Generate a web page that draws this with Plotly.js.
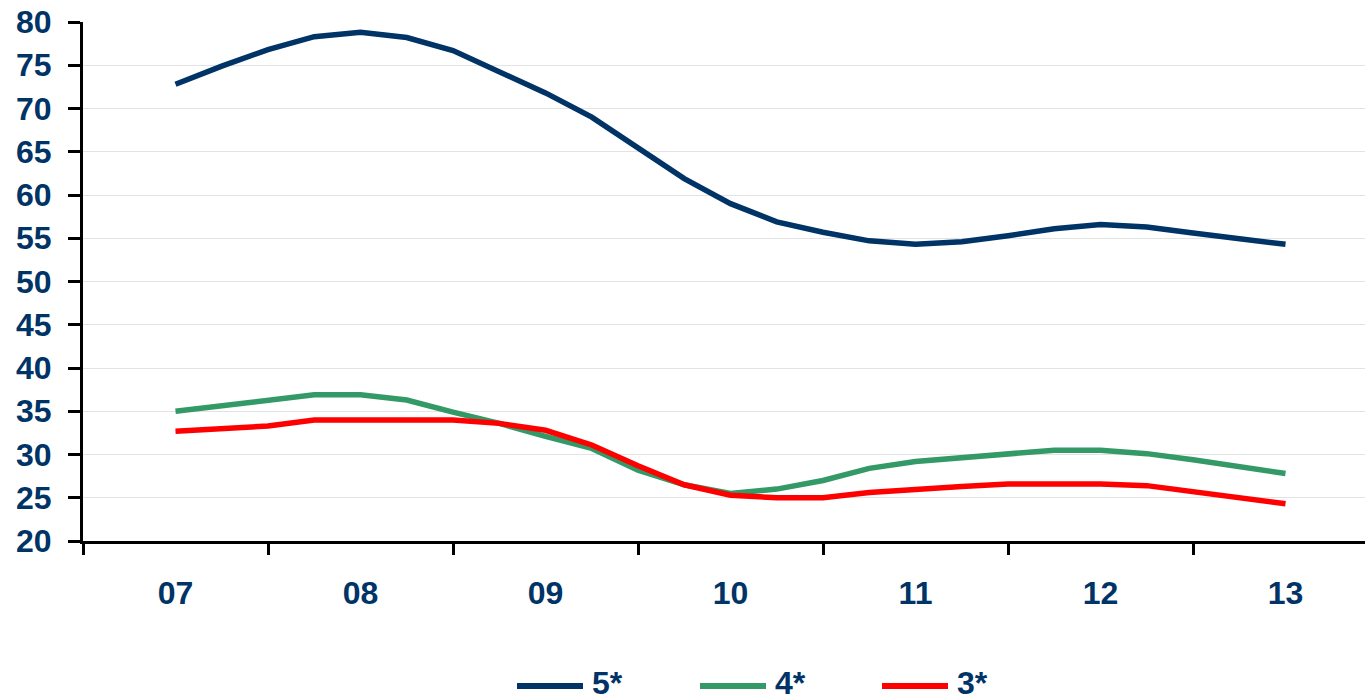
<!DOCTYPE html>
<html><head><meta charset="utf-8">
<script src="https://cdn.plot.ly/plotly-3.0.1.min.js"></script>
<style>html,body{margin:0;padding:0;background:#fff}#chart{width:1365px;height:700px}</style>
</head><body><div id="chart"></div>
<script>
// Category (year) labels on the x axis
const yearLabels = ['07','08','09','10','11','12','13'];
// Series names
const seriesNames = ['5*','4*','3*'];
// Quarterly values, from mid-07 to mid-13
const fiveStar  = [72.8,74.9,76.8,78.3,78.8,78.2,76.7,74.3,71.8,69.0,65.4,61.9,59.0,56.9,55.7,54.7,54.3,54.6,55.3,56.1,56.6,56.3,55.6,55.0,54.3];
const fourStar  = [35.0,35.6,36.3,36.9,36.9,36.3,34.9,33.6,32.1,30.7,28.2,26.5,25.5,26.0,27.0,28.4,29.2,29.6,30.0,30.5,30.5,30.1,29.4,28.6,27.8];
const threeStar = [32.7,33.0,33.3,34.0,34.0,34.0,34.0,33.6,32.8,31.1,28.7,26.5,25.3,25.0,25.0,25.6,26.0,26.3,26.6,26.6,26.6,26.4,25.7,25.0,24.3];
const seriesColors = ['#003366','#339966','#ff0000'];

const allSeries = [fiveStar, fourStar, threeStar];
const xPos = fiveStar.map((_, i) => i / 4);
const yearPos = yearLabels.map((_, i) => i);
const boundaries = yearLabels.map((_, i) => i - 0.5);

const traces = allSeries.map((vals, s) => ({
  x: xPos, y: vals, type: 'scatter', mode: 'lines', name: seriesNames[s],
  line: {color: seriesColors[s], width: 5.5}, showlegend: false, hoverinfo: 'skip'
}));

const font = {family: 'Liberation Sans, Arial, sans-serif', size: 32, color: '#003366', weight: 'bold'};

// custom legend built from series names/colors (long line samples)
const legStart = [517, 700, 882];
const W = 1365, H = 700, L = 83, T = 22, B = 159;
const pw = W - L, ph = H - T - B;
const px2x = p => (p - L) / pw;
const py2y = p => (H - B - p) / ph;
const shapes = [], annotations = [];
seriesNames.forEach((n, i) => {
  shapes.push({type: 'line', xref: 'paper', yref: 'paper', x0: px2x(legStart[i]), x1: px2x(legStart[i] + 66),
    y0: py2y(686), y1: py2y(686), line: {color: seriesColors[i], width: 6}});
  annotations.push({xref: 'paper', yref: 'paper', x: px2x(legStart[i] + 73), y: py2y(683), xanchor: 'left', yanchor: 'middle',
    text: n, showarrow: false, font: font});
});

const layout = {
  width: W, height: H,
  margin: {l: L, r: 0, t: T, b: B, pad: 0},
  paper_bgcolor: '#fff', plot_bgcolor: '#fff',
  showlegend: false,
  xaxis: {
    range: [-0.5, (W - L) / ((1285 - 175) / 6) - 0.5],
    tickmode: 'array', tickvals: yearPos, ticktext: yearLabels, ticks: '',
    ticklabelstandoff: 22,
    minor: {tickmode: 'array', tickvals: boundaries, ticks: 'outside', ticklen: 11, tickwidth: 3, tickcolor: '#000', showgrid: false},
    showline: true, linecolor: '#000', linewidth: 3, showgrid: false, zeroline: false,
    tickfont: font, fixedrange: true
  },
  yaxis: {
    range: [20, 80], tickmode: 'linear', tick0: 20, dtick: 5,
    ticks: 'outside', ticklen: 12, tickwidth: 3, tickcolor: '#000',
    ticklabelstandoff: 10,
    showline: true, linecolor: '#000', linewidth: 3,
    showgrid: true, gridcolor: '#e3e3e3', gridwidth: 1, zeroline: false,
    tickfont: font, fixedrange: true
  },
  shapes: shapes, annotations: annotations
};

Plotly.newPlot('chart', traces, layout, {displayModeBar: false, staticPlot: true});
</script>
</body></html>
